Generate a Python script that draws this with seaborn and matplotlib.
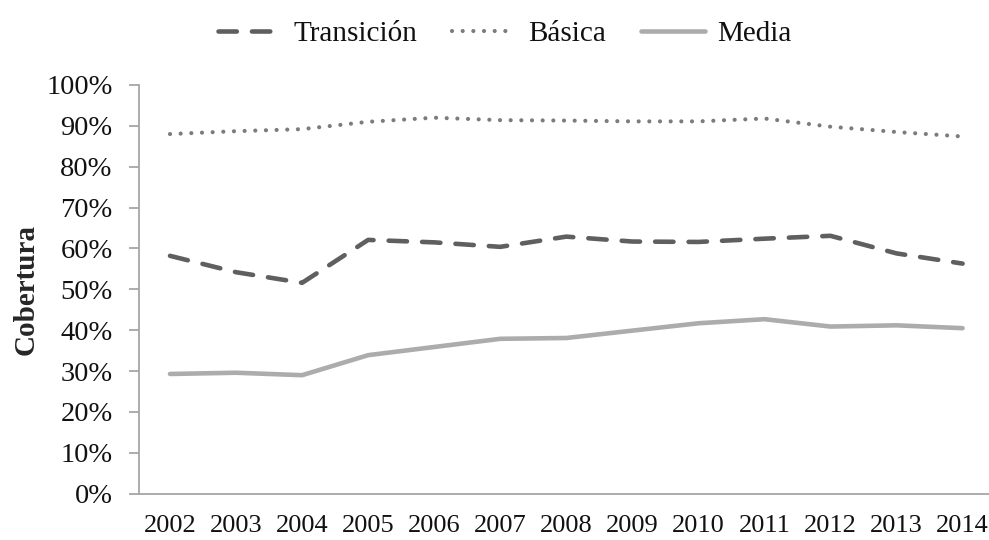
import matplotlib
matplotlib.use("Agg")
import matplotlib.pyplot as plt
import seaborn as sns
import pandas as pd
from matplotlib.ticker import PercentFormatter

years = ["2002", "2003", "2004", "2005", "2006", "2007", "2008", "2009", "2010", "2011", "2012", "2013", "2014"]
transicion = [58.2, 54.2, 51.6, 62.1, 61.5, 60.4, 62.9, 61.7, 61.6, 62.4, 63.1, 58.8, 56.3]
basica = [88.0, 88.7, 89.2, 91.0, 92.0, 91.4, 91.3, 91.1, 91.1, 91.8, 89.8, 88.5, 87.4]
media = [29.3, 29.6, 29.0, 33.9, 35.9, 37.9, 38.1, 39.9, 41.7, 42.7, 40.9, 41.2, 40.5]

series_names = ["Transición", "Básica", "Media"]

sns.set_theme(style="white")
plt.rcParams["font.family"] = ["Liberation Serif", "DejaVu Serif"]

fig = plt.figure(figsize=(9.89, 5.40), dpi=100)
ax = fig.add_axes([0.1405, 0.0857, 0.8595, 0.7569])

idx = list(range(len(years)))
styles = {
    "Transición": dict(color="#5f5f5f", lw=3.3, dashes=(4.0, 3.3)),
    "Básica": dict(color="#7c7c7c", lw=3.0, dashes=(0.01, 2.55)),
    "Media": dict(color="#acacac", lw=3.3, dashes=None),
}
for name, vals in zip(series_names, [transicion, basica, media]):
    df = pd.DataFrame({"x": idx, "y": vals})
    st = styles[name]
    sns.lineplot(data=df, x="x", y="y", ax=ax, color=st["color"], lw=st["lw"], label=name)
    ln = ax.lines[-1]
    if st["dashes"] is not None:
        ln.set_dashes(st["dashes"])
        ln.set_dash_capstyle("round")
    else:
        ln.set_solid_capstyle("round")

ax.set_xlim(-0.47, 12.40)
ax.set_ylim(0, 100)
ax.set_yticks(range(0, 101, 10))
ax.yaxis.set_major_formatter(PercentFormatter(decimals=0))
ax.set_xticks(idx)
ax.set_xticklabels(years)
ax.set_xlabel("")
ax.set_ylabel("Cobertura", fontsize=21, fontweight="bold", labelpad=5)

for s in ["top", "right"]:
    ax.spines[s].set_visible(False)
for s in ["left", "bottom"]:
    ax.spines[s].set_color("#a6a6a6")
    ax.spines[s].set_linewidth(1.3)
ax.tick_params(axis="y", which="major", left=True, length=7, width=1.3, color="#a6a6a6",
               labelsize=20.5, pad=12, labelcolor="#111111")
ax.tick_params(axis="x", which="major", bottom=False, labelsize=19, pad=9, labelcolor="#111111")

handles, labels = ax.get_legend_handles_labels()
if ax.legend_:
    ax.legend_.remove()
leg = fig.legend(handles, labels, loc="upper center", bbox_to_anchor=(0.51, 1.01), ncol=3,
                 frameon=False, fontsize=21, handlelength=2.2, handletextpad=0.4,
                 columnspacing=1.2)
for t in leg.get_texts():
    t.set_color("#111111")

fig.savefig("out.png", dpi=100)
